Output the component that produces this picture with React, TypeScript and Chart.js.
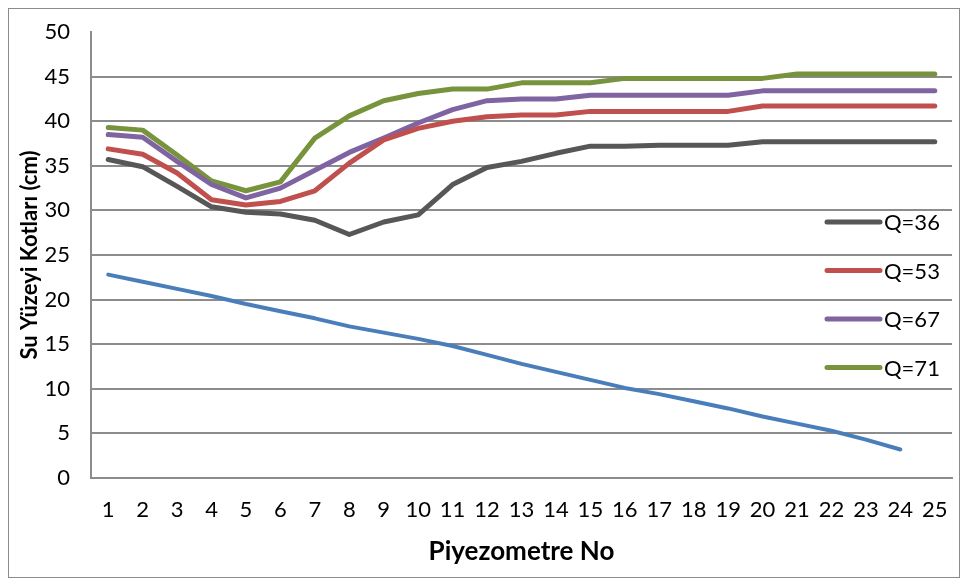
import { useEffect, useRef } from "react";
import { Chart, registerables } from "chart.js";

Chart.register(...registerables);

const categories = ["1","2","3","4","5","6","7","8","9","10","11","12","13","14","15","16","17","18","19","20","21","22","23","24","25"];

const q36 = [35.7, 34.9, 32.7, 30.4, 29.8, 29.6, 28.9, 27.3, 28.7, 29.5, 32.9, 34.8, 35.5, 36.4, 37.2, 37.2, 37.3, 37.3, 37.3, 37.7, 37.7, 37.7, 37.7, 37.7, 37.7];
const q53 = [36.9, 36.3, 34.2, 31.2, 30.6, 31.0, 32.2, 35.3, 37.9, 39.2, 40.0, 40.5, 40.7, 40.7, 41.1, 41.1, 41.1, 41.1, 41.1, 41.7, 41.7, 41.7, 41.7, 41.7, 41.7];
const q67 = [38.5, 38.2, 35.5, 32.9, 31.4, 32.5, 34.5, 36.5, 38.1, 39.8, 41.3, 42.3, 42.5, 42.5, 42.9, 42.9, 42.9, 42.9, 42.9, 43.4, 43.4, 43.4, 43.4, 43.4, 43.4];
const q71 = [39.3, 39.0, 36.2, 33.3, 32.2, 33.2, 38.1, 40.6, 42.3, 43.1, 43.6, 43.6, 44.3, 44.3, 44.3, 44.8, 44.8, 44.8, 44.8, 44.8, 45.3, 45.3, 45.3, 45.3, 45.3];
const bed = [22.8, 22.0, 21.2, 20.4, 19.5, 18.7, 17.9, 17.0, 16.3, 15.6, 14.8, 13.8, 12.8, 11.9, 11.0, 10.1, 9.4, 8.6, 7.8, 6.9, 6.1, 5.3, 4.3, 3.2, null];

const seriesLabels = ["Q=36", "Q=53", "Q=67", "Q=71"];
const yTitle = "Su Yüzeyi Kotları (cm)";
const xTitle = "Piyezometre No";

const FONT = "Lato, 'Open Sans', sans-serif";
const GRID = "#8c8c8c";

const sideLegend = {
  id: "sideLegend",
  afterDatasetsDraw(chart: any) {
    const { ctx, chartArea } = chart;
    const items = chart.data.datasets.filter((d: any) => d.label);
    ctx.save();
    items.forEach((ds: any, i: number) => {
      const y = chartArea.top + 190 + i * 48.5;
      const x0 = chartArea.right - 125;
      ctx.strokeStyle = ds.borderColor;
      ctx.lineWidth = 5;
      ctx.lineCap = "round";
      ctx.beginPath();
      ctx.moveTo(x0, y);
      ctx.lineTo(x0 + 53, y);
      ctx.stroke();
      ctx.fillStyle = "#000";
      ctx.font = `22px ${FONT}`;
      ctx.textBaseline = "middle";
      ctx.textAlign = "left";
      ctx.fillText(ds.label, x0 + 57, y + 1);
    });
    ctx.restore();
  },
};

export default function App() {
  const ref = useRef<HTMLCanvasElement | null>(null);

  useEffect(() => {
    if (!ref.current) return;
    const mk = (label: string, data: (number | null)[], color: string, w: number) => ({
      label,
      data,
      borderColor: color,
      backgroundColor: color,
      borderWidth: w,
      pointRadius: 0,
      tension: 0,
      borderCapStyle: "round" as const,
      borderJoinStyle: "round" as const,
      fill: false,
    });
    const chart = new Chart(ref.current, {
      type: "line",
      data: {
        labels: categories,
        datasets: [
          mk(seriesLabels[0], q36, "#575757", 5),
          mk(seriesLabels[1], q53, "#C0504D", 5),
          mk(seriesLabels[2], q67, "#8064A2", 5),
          mk(seriesLabels[3], q71, "#77933C", 5),
          mk("", bed, "#4A7EBB", 4),
        ],
      },
      options: {
        responsive: false,
        animation: false,
        layout: { padding: { top: 23, right: 7, left: 0, bottom: 0 } },
        plugins: {
          legend: { display: false },
          tooltip: { enabled: false },
        },
        scales: {
          x: {
            type: "category",
            offset: true,
            grid: { display: false, drawTicks: false },
            border: { display: true, color: GRID, width: 2 },
            ticks: {
              color: "#000",
              font: { family: FONT, size: 22 },
              padding: 19,
              maxRotation: 0,
              autoSkip: false,
            },
            title: {
              display: true,
              text: xTitle,
              color: "#000",
              font: { family: FONT, size: 26, weight: "bold" },
              padding: { top: 0, bottom: 10 },
            },
            afterFit: (s: any) => {
              s.height = 99;
              s.paddingLeft = 0;
              s.paddingRight = 0;
            },
          },
          y: {
            min: 0,
            max: 50,
            ticks: {
              stepSize: 5,
              color: "#000",
              font: { family: FONT, size: 22 },
              padding: 21,
            },
            grid: {
              color: (c: any) => (c.tick && c.tick.value === 50 ? "rgba(0,0,0,0)" : GRID),
              lineWidth: 2,
              drawTicks: false,
            },
            border: { display: true, color: GRID, width: 2 },
            title: {
              display: true,
              text: yTitle,
              color: "#000",
              font: { family: FONT, size: 22, weight: "bold" },
              padding: { top: 8, bottom: 0 },
            },
            afterFit: (s: any) => {
              s.width = 82;
              s.paddingTop = 0;
              s.paddingBottom = 0;
            },
          },
        },
      },
      plugins: [sideLegend],
    });
    return () => chart.destroy();
  }, []);

  return (
    <div style={{ width: 950, height: 568, border: "1px solid #8c8c8c", background: "#fff" }}>
      <canvas ref={ref} width={950} height={568} style={{ display: "block", width: 950, height: 568 }} />
    </div>
  );
}
